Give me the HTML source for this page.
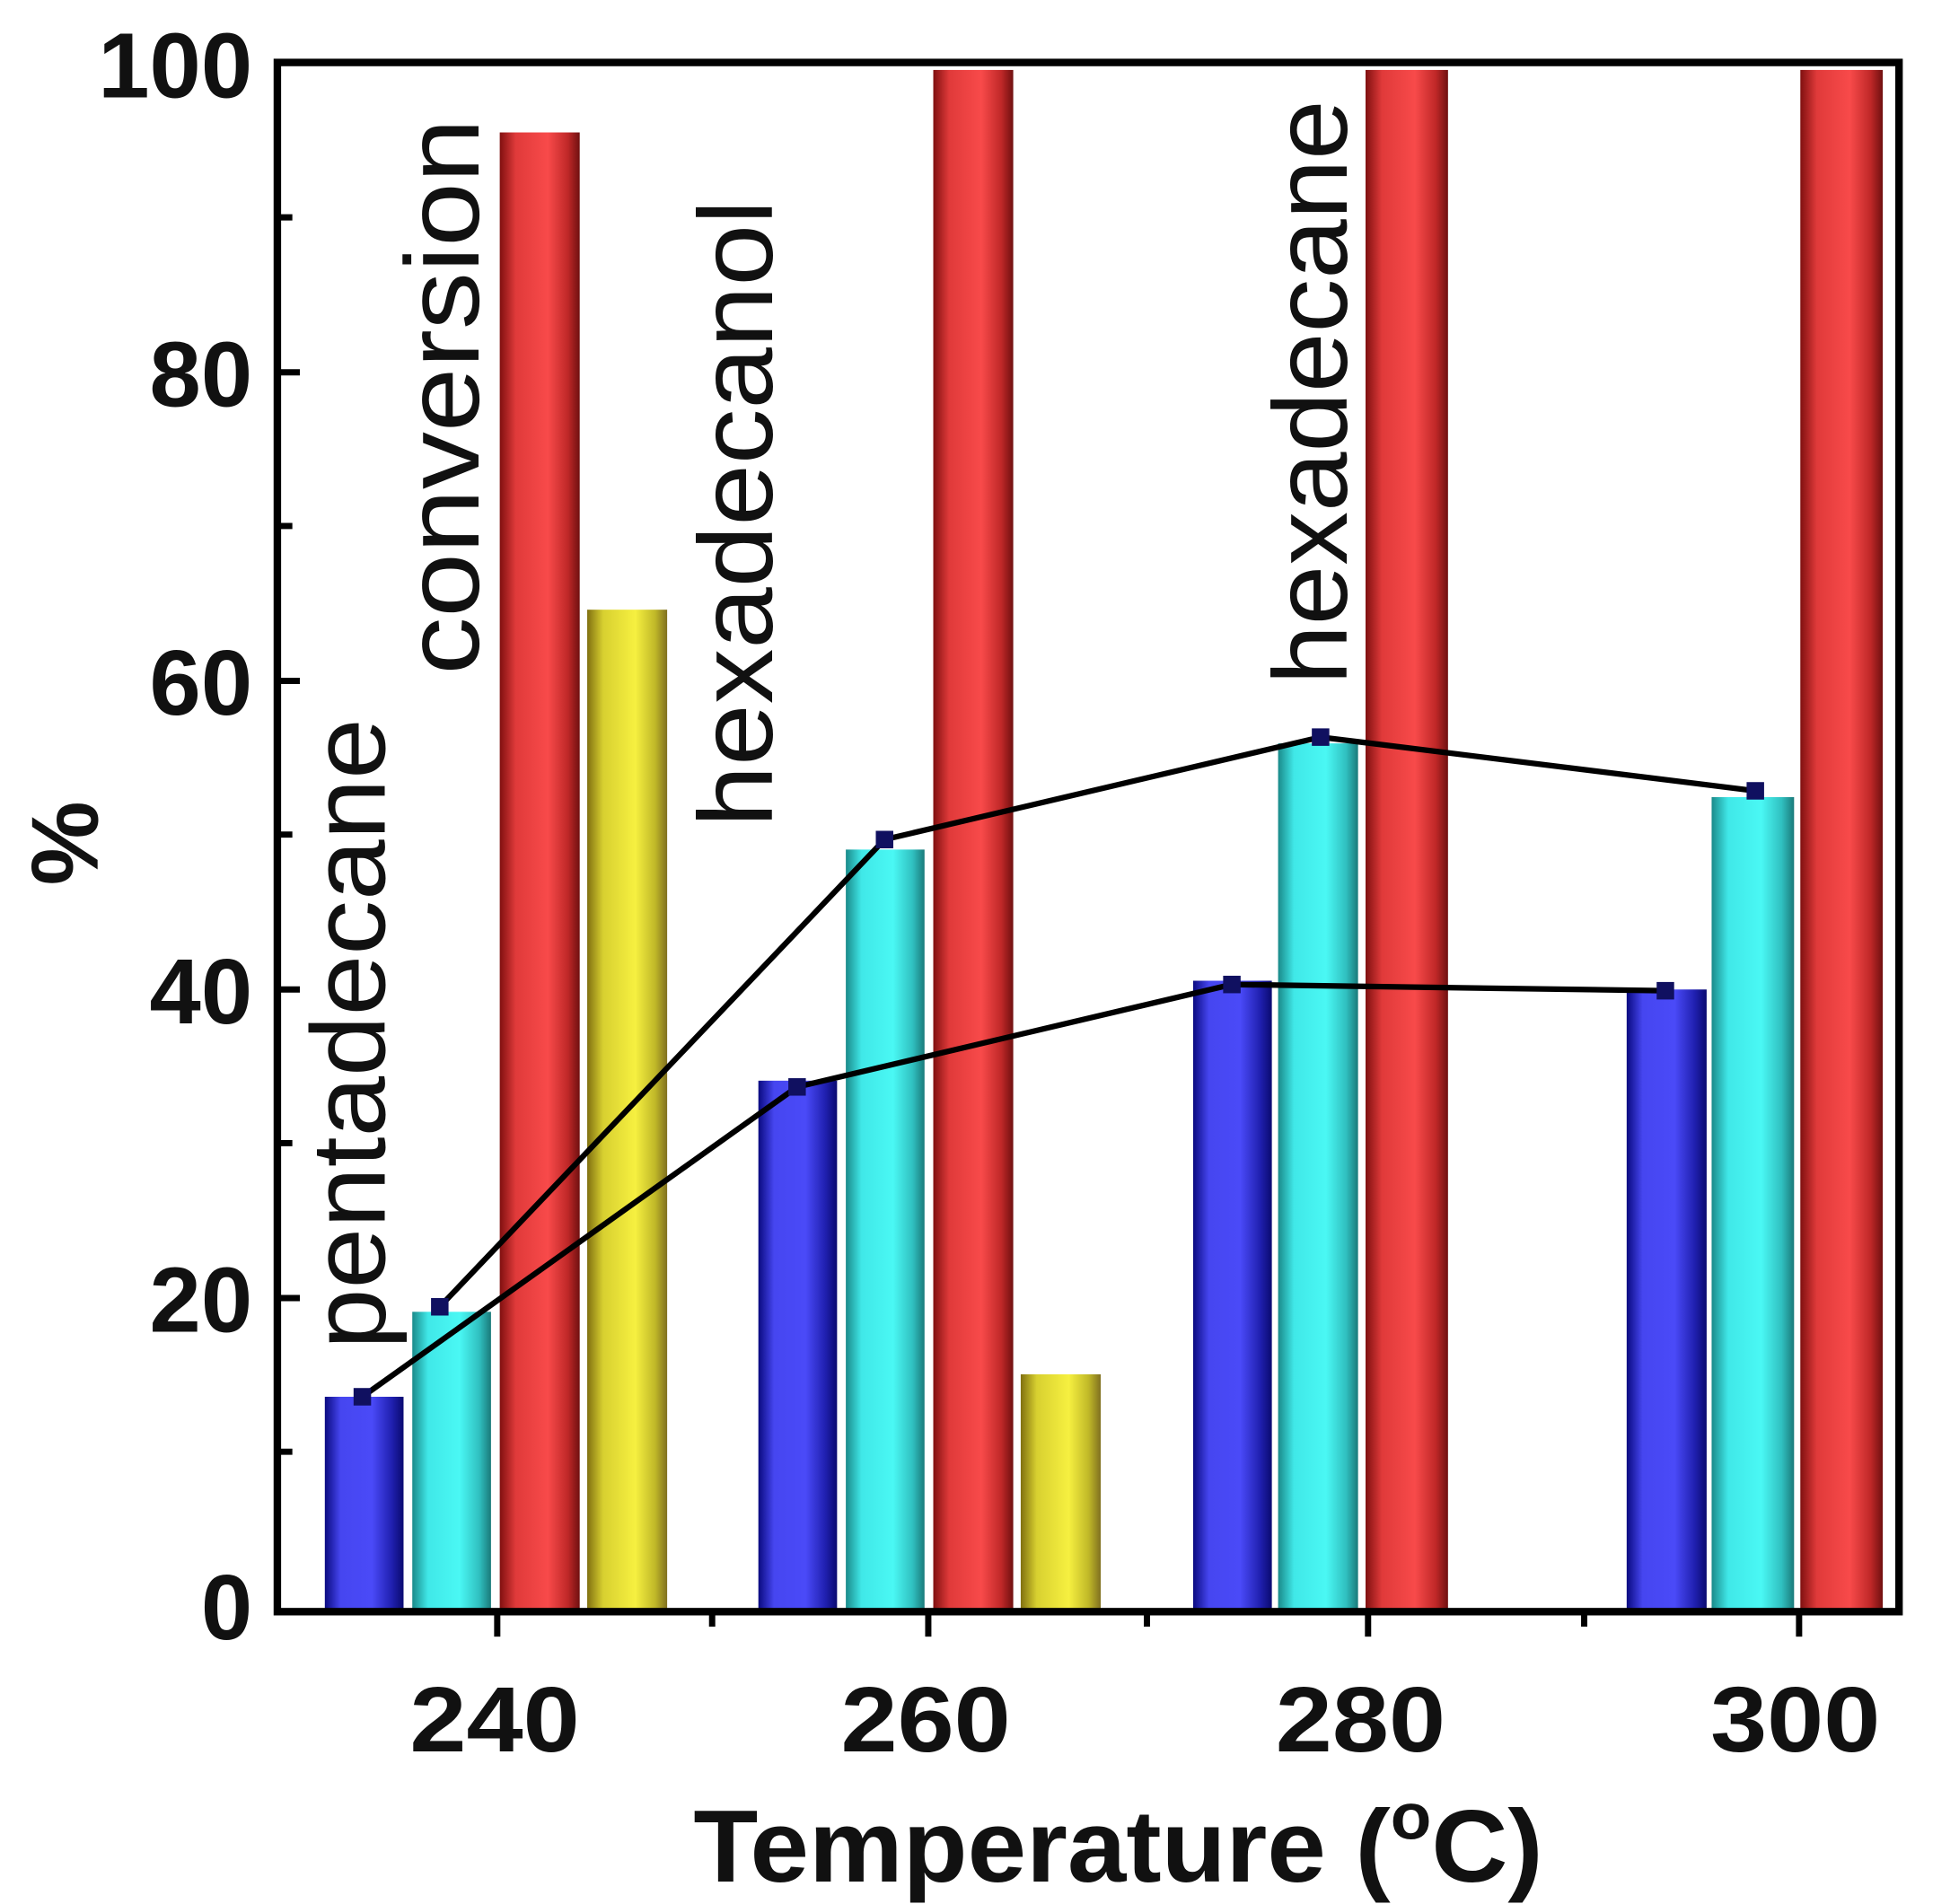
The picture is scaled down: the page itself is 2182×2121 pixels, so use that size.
<!DOCTYPE html>
<html><head><meta charset="utf-8"><style>
html,body{margin:0;padding:0;background:#fff;}
svg{display:block;}
text{font-family:"Liberation Sans",Arial,sans-serif;fill:#111;}
</style></head><body>
<svg width="2182" height="2121" viewBox="0 0 1568 1524" preserveAspectRatio="none" xmlns="http://www.w3.org/2000/svg">
<defs>
<linearGradient id="gb" x1="0" x2="1"><stop offset="0" stop-color="#0a0a80"/><stop offset="0.2" stop-color="#4646f0"/><stop offset="0.6" stop-color="#4a4af8"/><stop offset="0.85" stop-color="#2020b0"/><stop offset="1" stop-color="#0a0a70"/></linearGradient>
<linearGradient id="gc" x1="0" x2="1"><stop offset="0" stop-color="#1a8a8a"/><stop offset="0.2" stop-color="#40e8e8"/><stop offset="0.6" stop-color="#4af8f4"/><stop offset="0.85" stop-color="#30c0c0"/><stop offset="1" stop-color="#1a7a7a"/></linearGradient>
<linearGradient id="gr" x1="0" x2="1"><stop offset="0" stop-color="#801010"/><stop offset="0.2" stop-color="#e03a3a"/><stop offset="0.6" stop-color="#f84a4a"/><stop offset="0.85" stop-color="#c02828"/><stop offset="1" stop-color="#701010"/></linearGradient>
<linearGradient id="gy" x1="0" x2="1"><stop offset="0" stop-color="#807010"/><stop offset="0.2" stop-color="#d8d030"/><stop offset="0.6" stop-color="#f6f040"/><stop offset="0.85" stop-color="#c0b828"/><stop offset="1" stop-color="#807020"/></linearGradient>
</defs>
<g>
<rect x="260" y="1118" width="63" height="170" fill="url(#gb)"/>
<rect x="330" y="1050" width="63" height="238" fill="url(#gc)"/>
<rect x="400" y="106" width="64" height="1182" fill="url(#gr)"/>
<rect x="470" y="488" width="64" height="800" fill="url(#gy)"/>

<rect x="607" y="865" width="63" height="423" fill="url(#gb)"/>
<rect x="677" y="680" width="63" height="608" fill="url(#gc)"/>
<rect x="747" y="56" width="64" height="1232" fill="url(#gr)"/>
<rect x="817" y="1100" width="64" height="188" fill="url(#gy)"/>

<rect x="955" y="785" width="63" height="503" fill="url(#gb)"/>
<rect x="1023" y="595" width="64" height="693" fill="url(#gc)"/>
<rect x="1093" y="56" width="66" height="1232" fill="url(#gr)"/>

<rect x="1302" y="792" width="64" height="496" fill="url(#gb)"/>
<rect x="1370" y="638" width="66" height="650" fill="url(#gc)"/>
<rect x="1441" y="56" width="66" height="1232" fill="url(#gr)"/>
</g>
<polyline points="290,1118 638,870 986,788 1333,793" fill="none" stroke="#000" stroke-width="4.5"/>
<polyline points="352,1046 708,672 1057,590 1405,633" fill="none" stroke="#000" stroke-width="4.5"/>
<g fill="#101060">
<rect x="283" y="1111" width="14" height="14"/><rect x="631" y="863" width="14" height="14"/><rect x="979" y="781" width="14" height="14"/><rect x="1326" y="786" width="14" height="14"/>
<rect x="345" y="1039" width="14" height="14"/><rect x="701" y="665" width="14" height="14"/><rect x="1050" y="583" width="14" height="14"/><rect x="1398" y="626" width="14" height="14"/>
</g>
<rect x="222" y="50" width="1298" height="1240" fill="none" stroke="#000" stroke-width="6"/>
<g stroke="#000" stroke-width="5">
<line x1="398" y1="1290" x2="398" y2="1310"/><line x1="743" y1="1290" x2="743" y2="1310"/><line x1="1095" y1="1290" x2="1095" y2="1310"/><line x1="1440" y1="1290" x2="1440" y2="1310"/>
<line x1="570" y1="1290" x2="570" y2="1302"/><line x1="918" y1="1290" x2="918" y2="1302"/><line x1="1268" y1="1290" x2="1268" y2="1302"/>
<line x1="222" y1="1162" x2="234" y2="1162"/><line x1="222" y1="915" x2="234" y2="915"/><line x1="222" y1="668" x2="234" y2="668"/><line x1="222" y1="421" x2="234" y2="421"/><line x1="222" y1="174" x2="234" y2="174"/>
<line x1="222" y1="1039" x2="240" y2="1039"/><line x1="222" y1="792" x2="240" y2="792"/><line x1="222" y1="545" x2="240" y2="545"/><line x1="222" y1="298" x2="240" y2="298"/>
</g>
<g font-size="74" font-weight="bold" text-anchor="end">
<text x="202" y="1312">0</text><text x="202" y="1066">20</text><text x="202" y="819">40</text><text x="202" y="572">60</text><text x="202" y="325">80</text><text x="202" y="78">100</text>
</g>
<g font-size="74" font-weight="bold" text-anchor="middle">
<text x="396" y="1402" textLength="136" lengthAdjust="spacingAndGlyphs">240</text><text x="741" y="1402" textLength="136" lengthAdjust="spacingAndGlyphs">260</text><text x="1089" y="1402" textLength="136" lengthAdjust="spacingAndGlyphs">280</text><text x="1437" y="1402" textLength="136" lengthAdjust="spacingAndGlyphs">300</text>
</g>
<text x="555" y="1506" font-size="82" font-weight="bold" textLength="680" lengthAdjust="spacingAndGlyphs">Temperature (<tspan font-size="52" dy="-34">o</tspan><tspan dy="34">C)</tspan></text>
<text transform="translate(78,675) rotate(-90)" font-size="76" font-weight="bold" text-anchor="middle">%</text>
<g font-size="84">
<text transform="translate(308,1080) rotate(-90)" textLength="505" lengthAdjust="spacingAndGlyphs">pentadecane</text>
<text transform="translate(383,540) rotate(-90)" textLength="445" lengthAdjust="spacingAndGlyphs">conversion</text>
<text transform="translate(618,662) rotate(-90)" textLength="502" lengthAdjust="spacingAndGlyphs">hexadecanol</text>
<text transform="translate(1078,548) rotate(-90)" textLength="468" lengthAdjust="spacingAndGlyphs">hexadecane</text>
</g>
</svg>
</body></html>
